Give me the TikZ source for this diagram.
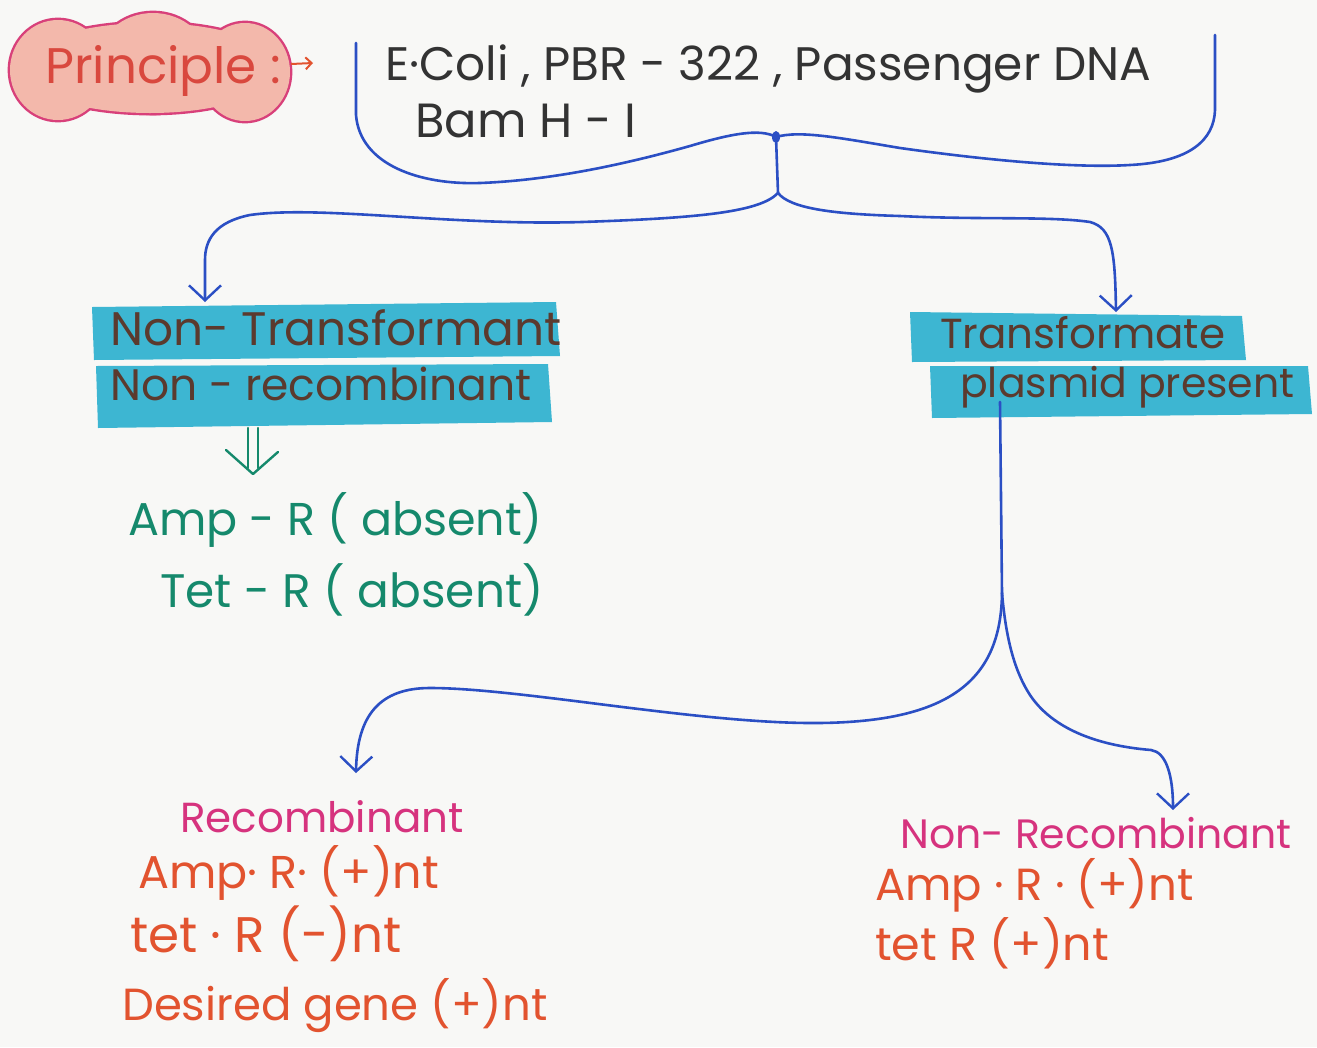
\documentclass[tikz,border=0pt]{standalone}
\usepackage{fontspec}
\setmainfont{Poppins}
\usetikzlibrary{arrows.meta,calc}
\definecolor{paper}{HTML}{F8F8F6}
\definecolor{penblue}{HTML}{2B4FC4}
\definecolor{hlcyan}{HTML}{3DB6D2}
\definecolor{brownink}{HTML}{5B3A2E}
\definecolor{greenink}{HTML}{15896C}
\definecolor{magink}{HTML}{D6337E}
\definecolor{redink}{HTML}{E2532F}
\definecolor{cloudfill}{HTML}{F3B8AB}
\definecolor{cloudline}{HTML}{D8407A}
\definecolor{cloudtext}{HTML}{D9483E}
\begin{document}
\begin{tikzpicture}[x=1pt,y=-1pt,
  hand/.style={font=\fontsize{#1}{#1}\selectfont, anchor=base west, inner sep=0pt},
  hand/.default=45,
  blueline/.style={draw=penblue, line width=2.6pt, line cap=round, line join=round},
  bluearrow/.style={blueline, -{Straight Barb[length=15pt,width=32pt,line width=2.4pt]}},
  hlbar/.style={fill=hlcyan, draw=none},
  greenpen/.style={draw=greenink, line width=2.4pt, line cap=round, line join=round},
  puffline/.style={draw=cloudline, line width=4.8pt},
  pufffill/.style={fill=cloudfill}
]
\fill[paper] (0,0) rectangle (1317,1047);
\useasboundingbox (0,0) rectangle (1317,1047);

% principle cloud (union of puffs)
\draw[puffline] (58,70) ellipse (48pt and 50pt);
\draw[puffline] (153,63) ellipse (56pt and 50pt);
\draw[puffline] (245,72) ellipse (45pt and 49pt);
\draw[puffline] (150,68) ellipse (130pt and 45pt);
\fill[pufffill] (58,70) ellipse (48pt and 50pt);
\fill[pufffill] (153,63) ellipse (56pt and 50pt);
\fill[pufffill] (245,72) ellipse (45pt and 49pt);
\fill[pufffill] (150,68) ellipse (130pt and 45pt);
\node[hand=50, text=cloudtext] (principle) at (45,83) {Principle :};
\coordinate (pstart) at (291,64);
\coordinate (pend) at (313,63);
\draw[draw=redink, line width=2pt, -{Straight Barb[length=6pt,width=12pt]}] (pstart) -- (pend);

% top bracket
\node[hand=47, text=black!80] (ecoli) at (385,80) {E·Coli , PBR - 322 , Passenger DNA};
\node[hand=48, text=black!80] (bam) at (415,137) {Bam H - I};
\coordinate (bt) at (776,137);
\draw[blueline] (356,43) -- (356,115) .. controls (360,165) and (420,185) .. (480,183)
  .. controls (560,180) and (640,160) .. (690,146) .. controls (730,134) and (760,128) .. (bt);
\draw[blueline] (1215,35) -- (1215,110) .. controls (1214,140) and (1190,162) .. (1130,165)
  .. controls (1080,168) and (1000,162) .. (900,148) .. controls (840,138) and (800,130) .. (bt);
\fill[penblue] (bt) ellipse (4pt and 6pt);

% first split
\coordinate (split1) at (778,193);
\coordinate (ltip) at (205,302);
\coordinate (rtip) at (1116,312);
\draw[blueline] (bt) -- (split1);
\draw[bluearrow] (split1) .. controls (760,212) and (700,218) .. (582,222)
  .. controls (450,226) and (320,205) .. (250,215) .. controls (215,222) and (205,240) .. (205,260) -- (ltip);
\draw[bluearrow] (split1) .. controls (790,208) and (830,214) .. (900,216)
  .. controls (980,220) and (1050,216) .. (1090,222) .. controls (1112,228) and (1115,250) .. (rtip);

% highlight bars
\fill[hlbar] (92,307) -- (556,302) -- (560,356) -- (94,360) -- cycle;
\fill[hlbar] (96,366) -- (548,364) -- (552,422) -- (98,428) -- cycle;
\fill[hlbar] (910,312) -- (1242,316) -- (1246,360) -- (912,362) -- cycle;
\fill[hlbar] (930,366) -- (1308,366) -- (1312,414) -- (932,418) -- cycle;

\node[hand=47, text=brownink] (ntrans) at (110,345) {Non- Transformant};
\node[hand=44, text=brownink] (nrec) at (110,400) {Non - recombinant};
\node[hand=42, text=brownink] (trans) at (940,348) {Transformate};
\node[hand=41, text=brownink] (plas) at (960,397) {plasmid present};

% green double arrow
\coordinate (dbltop) at (253,428);
\coordinate (dblbot) at (253,474);
\draw[greenpen] ($(dbltop)+(-5,0)$) -- ($(dblbot)+(-5,-6)$);
\draw[greenpen] ($(dbltop)+(5,0)$) -- ($(dblbot)+(5,-6)$);
\draw[greenpen] (226,450) -- (dblbot) -- (278,452);

\node[hand=46, text=greenink] (ampa) at (128,535) {Amp - R ( absent)};
\node[hand=47, text=greenink] (teta) at (160,607) {Tet - R ( absent)};

% second split
\coordinate (stem2) at (1000,402);
\coordinate (split2) at (1002,593);
\coordinate (lltip) at (356,773);
\coordinate (lrtip) at (1173,810);
\draw[blueline] (stem2) -- (split2);
\draw[bluearrow] (split2) .. controls (1001,680) and (950,722) .. (818,723)
  .. controls (700,724) and (520,688) .. (430,688)
  .. controls (380,688) and (357,715) .. (lltip);
\draw[bluearrow] (split2) .. controls (1006,640) and (1015,672) .. (1030,695)
  .. controls (1050,725) and (1090,745) .. (1151,750) .. controls (1166,752) and (1173,775) .. (lrtip);

% bottom texts
\node[hand=42, text=magink] (recomb) at (180,832) {Recombinant};
\node[hand=46, text=redink] (r1) at (138,888) {Amp· R· (+)nt};
\node[hand=50, text=redink] (r2) at (130,952) {tet · R (-)nt};
\node[hand=45, text=redink] (r3) at (122,1020) {Desired gene (+)nt};

\node[hand=41, text=magink] (nrecomb) at (900,848) {Non- Recombinant};
\node[hand=45, text=redink] (n1) at (875,900) {Amp · R · (+)nt};
\node[hand=46, text=redink] (n2) at (875,960) {tet R (+)nt};
\end{tikzpicture}
\end{document}
